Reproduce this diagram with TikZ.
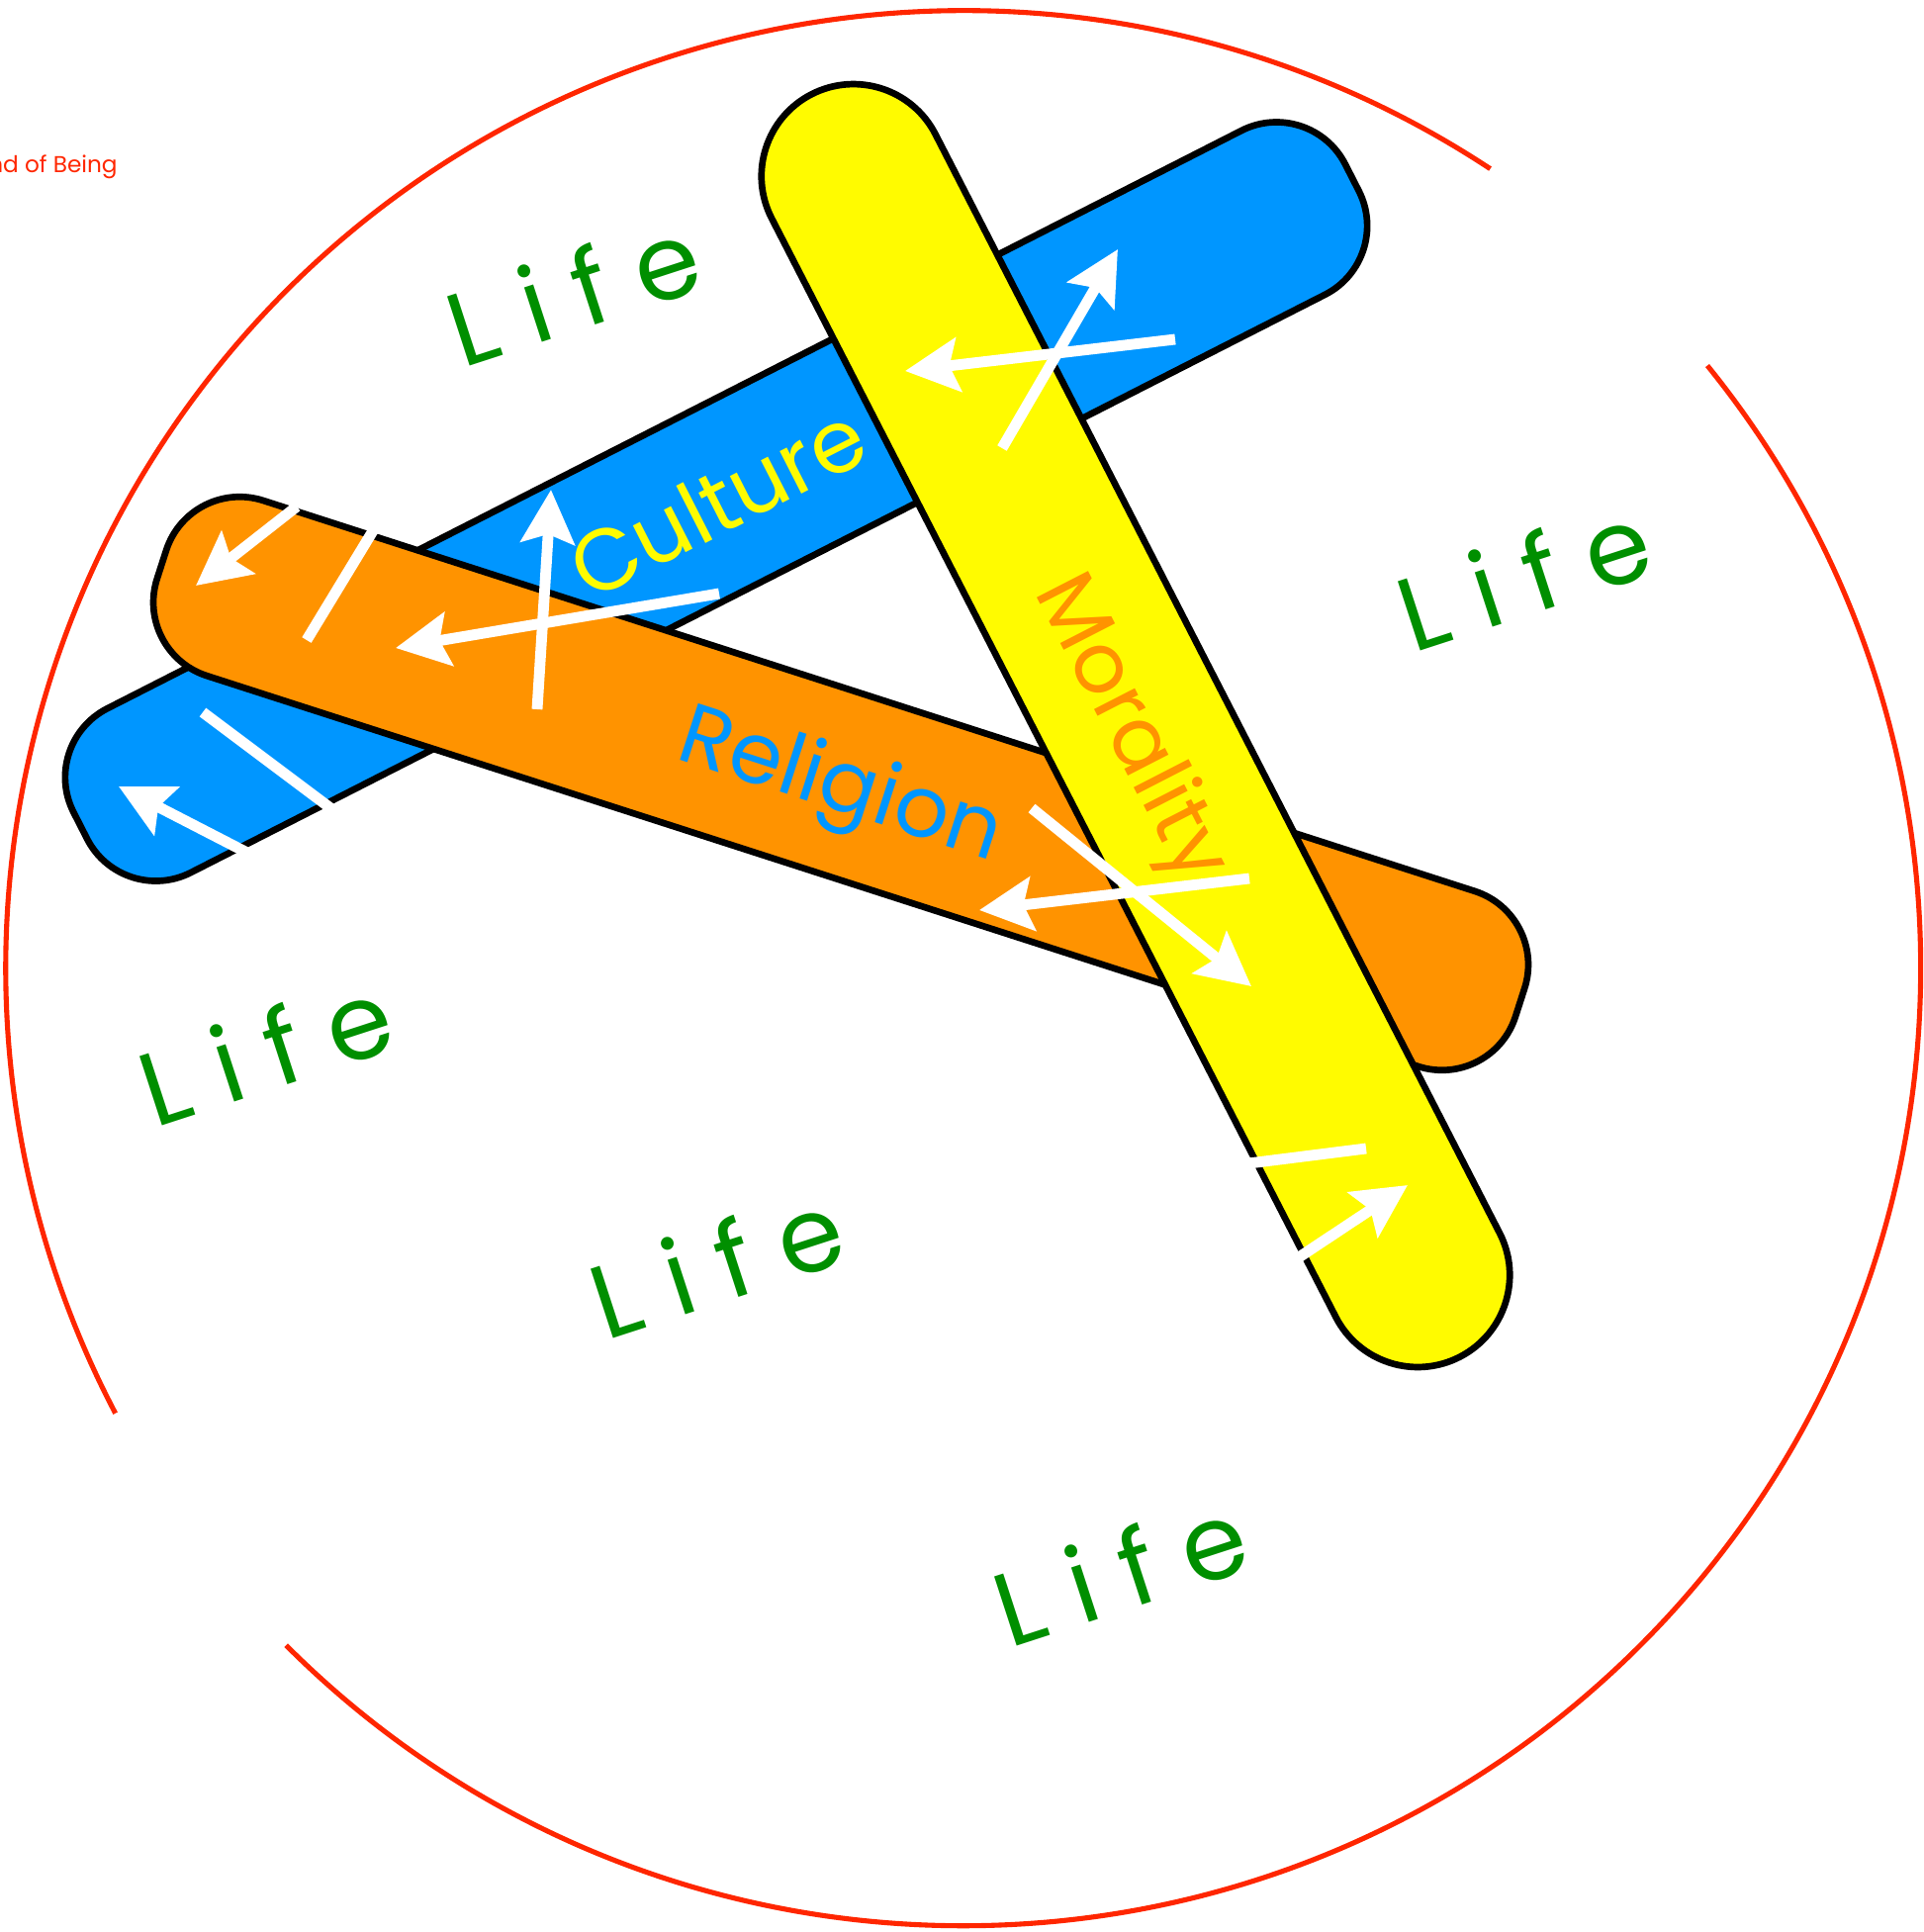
\documentclass[tikz,border=0pt]{standalone}
\usepackage{fontspec}
\setmainfont{Poppins}
\usetikzlibrary{arrows.meta, shapes.misc}

\definecolor{aqua}{RGB}{0,150,255}
\definecolor{tangerine}{RGB}{255,147,0}
\definecolor{lemon}{RGB}{255,251,0}
\definecolor{maraschino}{RGB}{255,38,0}
\definecolor{clover}{RGB}{0,143,0}

\newcommand{\lifeword}{L\kern0.31cm i\kern0.29cm f\kern0.29cm e}

\begin{document}
\begin{tikzpicture}[x=0.01cm, y=-0.01cm, line width=1.9pt]

  \tikzset{
    bar/.style  = {draw=black, line width=1.9pt, inner sep=0pt,
                   minimum height=1.86cm},
    slab/.style = {bar, rectangle, minimum width=14.42cm,
                   rounded corners=0.78cm},
    pill/.style = {bar, rounded rectangle, minimum width=14.34cm},
    word/.style = {font=\fontsize{24}{27}\selectfont, inner sep=0pt},
    life/.style = {font=\fontsize{30}{33}\selectfont, text=clover,
                   inner sep=0pt, rotate=18},
    flow/.style = {draw=white, line width=3.1pt,
                   -{Stealth[length=5.4mm, width=5.4mm, inset=0.9mm]}},
    stub/.style = {draw=white, line width=3.1pt},
    rim/.style  = {draw=maraschino, line width=1.45pt},
  }

  \useasboundingbox (0,0) rectangle (1945,1953);

  % ---- the broken circle --------------------------------------------------
  \coordinate (hub) at (973.7,978.7);
  \draw[rim] (hub) ++(-56.6:968) arc[start angle=-56.6, end angle=-207.7, radius=968];
  \draw[rim] (hub) ++(-225:968)  arc[start angle=-225,  end angle=-399,   radius=968];

  \node[font=\fontsize{6.6}{8}\selectfont, text=maraschino, anchor=base east,
        inner sep=0pt] (realm) at (122,174) {nd of Being};

  % ---- the three bars, bottom to top --------------------------------------
  \node[slab, fill=aqua,      rotate=27]     (culture)  at (724,507) {};
  \node[slab, fill=tangerine, rotate=-17.87] (religion) at (850,792) {};
  \node[pill, fill=lemon,     rotate=-62.82] (morality) at (1148,733.5) {};

  \node[word, text=lemon,     rotate=27,
        font=\fontsize{25}{28}\selectfont] (culture-txt)  at (725,507)  {Culture};
  \node[word, text=aqua,      rotate=-17.87,
        font=\fontsize{24.5}{28}\selectfont] (religion-txt) at (849,798) {Religion};
  \node[word, text=tangerine, rotate=-62.82] (morality-txt) at (1141,738) {Morality};

  % ---- life all round -----------------------------------------------------
  \foreach \i/\x/\y in {1/579/294, 2/1540/582, 3/268/1062, 4/724/1277, 5/1132/1588}
    \node[life] (life-\i) at (\x,\y) {\lifeword};

  % ---- white pushes -------------------------------------------------------
  \foreach \n/\ax/\ay/\bx/\by in {%
    a/300/512/198/592,   b/727/600/400/655,   c/543/717/557/495,
    d/250/862/120/795,   e/1013/453/1130/252, f/1188/343/915/375,
    g/1043/817/1265/997, h/1263/888/990/920,  i/1310/1273/1423/1198%
  }{
    \coordinate (\n-tail) at (\ax,\ay);
    \coordinate (\n-tip)  at (\bx,\by);
    \draw[flow] (\n-tail) -- (\n-tip);
  }

  \foreach \n/\ax/\ay/\bx/\by in {%
    p/310/647/378/535, q/205/720/337/819, r/1262/1176/1381/1161%
  }{
    \coordinate (\n-from) at (\ax,\ay);
    \coordinate (\n-to)   at (\bx,\by);
    \draw[stub] (\n-from) -- (\n-to);
  }

\end{tikzpicture}
\end{document}
